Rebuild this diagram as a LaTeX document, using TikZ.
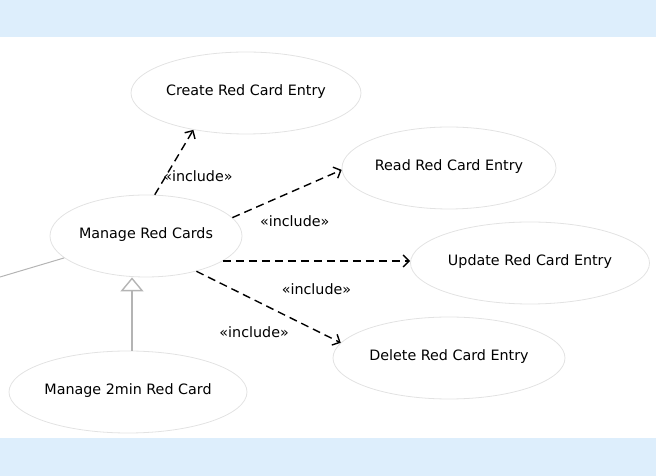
\documentclass[tikz,border=0pt]{standalone}
\usepackage{fontspec}
\setmainfont{DejaVu Sans}
\usetikzlibrary{shapes.geometric, arrows.meta}
\definecolor{bandblue}{RGB}{221,238,252}
\definecolor{ovalgray}{RGB}{226,226,226}
\definecolor{gengray}{RGB}{180,180,180}

\begin{document}
\begin{tikzpicture}[x=1pt, y=1pt, node distance=100pt]
    \tikzstyle{every node}=[font=\fontsize{14.3pt}{17pt}\selectfont, align=center]
    \tikzset{
        uc/.style={draw=ovalgray, line width=0.8pt, ellipse, inner sep=0pt, minimum height=82pt, text height=11pt, text depth=6pt},
        inc/.style={line width=1.4pt, dash pattern=on 8pt off 5pt, -{Straight Barb[length=6pt, width=12pt]}},
        gen/.style={draw=gengray, line width=1.4pt, -{Triangle[fill=white, length=14pt, width=23pt]}},
        assoc/.style={draw=gengray, line width=1pt},
        lbl/.style={inner sep=1pt}
        }

    %bands
    \fill[bandblue] (0,439) rectangle (656,476);
    \fill[bandblue] (0,0) rectangle (656,38);
    \useasboundingbox (0,0) rectangle (656,476);

    %base use case
    \node (manage) [uc, minimum width=192pt] at (146,240) {Manage Red Cards};

    %included use cases
    \node (create) [uc, minimum width=230pt, right of=manage, yshift=143pt] {Create Red Card Entry};
    \node (read) [uc, minimum width=214pt, right of=manage, xshift=203pt, yshift=68pt] {Read Red Card Entry};
    \node (update) [uc, minimum width=239pt, right of=manage, xshift=284pt, yshift=-27pt] {Update Red Card Entry};
    \node (delete) [uc, minimum width=232pt, right of=manage, xshift=203pt, yshift=-122pt] {Delete Red Card Entry};

    %specialised use case
    \node (twomin) [uc, minimum width=238pt, below of=manage, xshift=-18pt, yshift=-56pt] {Manage 2min Red Card};

    %actor line
    \coordinate (actor) at (0,199);
    \draw[assoc] (actor) -- (manage.195);

    %include
    \draw[inc] (manage.78) -- (create.215) node (inccreate) [lbl, pos=0.28, anchor=west, xshift=-4pt] {«include»};
    \draw[inc] (manage.12) -- (read.181) node (incread) [lbl, pos=0.57, yshift=-31pt] {«include»};
    \draw[inc] (manage.-18) -- (manage.-18 -| update.west) node (incupdate) [lbl, pos=0.5, yshift=-28pt] {«include»};
    \draw[inc] (manage.-35) -- (delete.172) node (incdelete) [lbl, pos=0.4, yshift=-32pt] {«include»};

    %generalisation
    \draw[gen] ([xshift=4pt]twomin.north) -- ([xshift=4pt]twomin.north |- manage.south);
\end{tikzpicture}
\end{document}
